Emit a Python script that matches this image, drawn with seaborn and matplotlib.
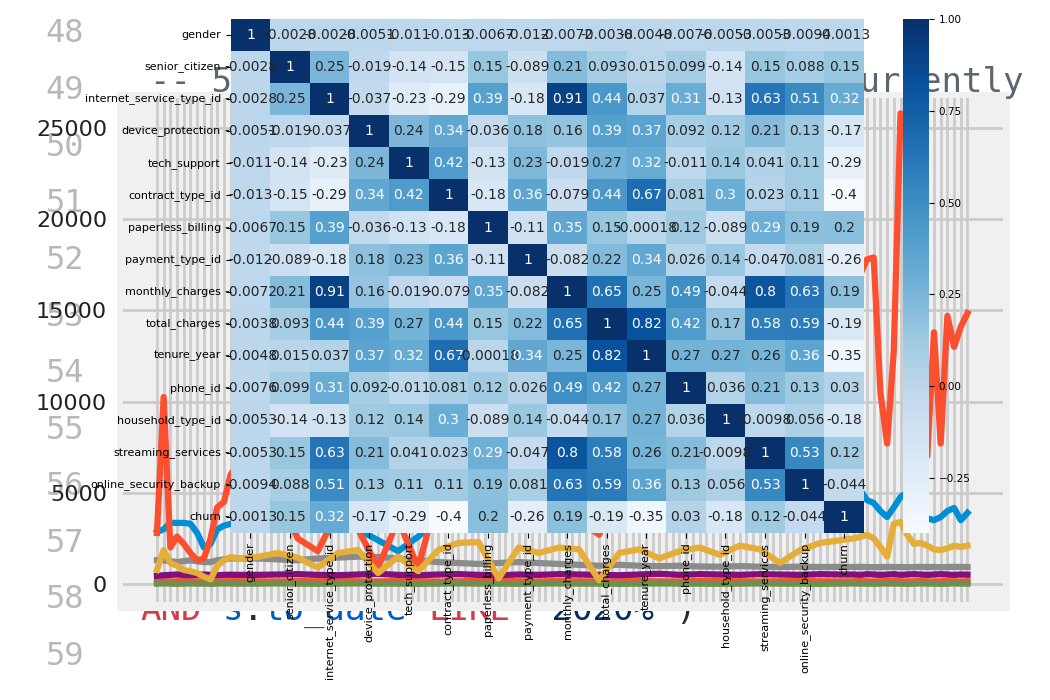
import matplotlib
matplotlib.use("Agg")
import matplotlib.pyplot as plt
from matplotlib.patches import Rectangle
from matplotlib.transforms import Bbox, TransformedBbox
import seaborn as sns
import pandas as pd

# ---------------- heatmap data ----------------
features = ["gender", "senior_citizen", "internet_service_type_id", "device_protection",
            "tech_support", "contract_type_id", "paperless_billing", "payment_type_id",
            "monthly_charges", "total_charges", "tenure_year", "phone_id",
            "household_type_id", "streaming_services", "online_security_backup", "churn"]

corr_values = [
    [1, -0.0028, -0.0028, -0.0051, -0.011, -0.013, -0.0067, -0.012, -0.0072, -0.0038, -0.0048, -0.0076, -0.0053, -0.0053, -0.0094, -0.0013],
    [-0.0028, 1, 0.25, -0.019, -0.14, -0.15, 0.15, -0.089, 0.21, 0.093, 0.015, 0.099, -0.14, 0.15, 0.088, 0.15],
    [-0.0028, 0.25, 1, -0.037, -0.23, -0.29, 0.39, -0.18, 0.91, 0.44, 0.037, 0.31, -0.13, 0.63, 0.51, 0.32],
    [-0.0051, -0.019, -0.037, 1, 0.24, 0.34, -0.036, 0.18, 0.16, 0.39, 0.37, 0.092, 0.12, 0.21, 0.13, -0.17],
    [-0.011, -0.14, -0.23, 0.24, 1, 0.42, -0.13, 0.23, -0.019, 0.27, 0.32, -0.011, 0.14, 0.041, 0.11, -0.29],
    [-0.013, -0.15, -0.29, 0.34, 0.42, 1, -0.18, 0.36, -0.079, 0.44, 0.67, 0.081, 0.3, 0.023, 0.11, -0.4],
    [-0.0067, 0.15, 0.39, -0.036, -0.13, -0.18, 1, -0.11, 0.35, 0.15, -0.00018, 0.12, -0.089, 0.29, 0.19, 0.2],
    [-0.012, -0.089, -0.18, 0.18, 0.23, 0.36, -0.11, 1, -0.082, 0.22, 0.34, 0.026, 0.14, -0.047, 0.081, -0.26],
    [-0.0072, 0.21, 0.91, 0.16, -0.019, -0.079, 0.35, -0.082, 1, 0.65, 0.25, 0.49, -0.044, 0.8, 0.63, 0.19],
    [-0.0038, 0.093, 0.44, 0.39, 0.27, 0.44, 0.15, 0.22, 0.65, 1, 0.82, 0.42, 0.17, 0.58, 0.59, -0.19],
    [-0.0048, 0.015, 0.037, 0.37, 0.32, 0.67, -0.00018, 0.34, 0.25, 0.82, 1, 0.27, 0.27, 0.26, 0.36, -0.35],
    [-0.0076, 0.099, 0.31, 0.092, -0.011, 0.081, 0.12, 0.026, 0.49, 0.42, 0.27, 1, 0.036, 0.21, 0.13, 0.03],
    [-0.0053, -0.14, -0.13, 0.12, 0.14, 0.3, -0.089, 0.14, -0.044, 0.17, 0.27, 0.036, 1, -0.0098, 0.056, -0.18],
    [-0.0053, 0.15, 0.63, 0.21, 0.041, 0.023, 0.29, -0.047, 0.8, 0.58, 0.26, 0.21, -0.0098, 1, 0.53, 0.12],
    [-0.0094, 0.088, 0.51, 0.13, 0.11, 0.11, 0.19, 0.081, 0.63, 0.59, 0.36, 0.13, 0.056, 0.53, 1, -0.044],
    [-0.0013, 0.15, 0.32, -0.17, -0.29, -0.4, 0.2, -0.26, 0.19, -0.19, -0.35, 0.03, -0.18, 0.12, -0.044, 1],
]
cbar_ticks = [-0.25, 0.0, 0.25, 0.50, 0.75, 1.00]

# ---------------- background line chart data (estimated) ----------------
days = list(range(0, 13)) + list(range(15, 103, 3)) + list(range(104, 122))
bg_yticks = [0, 5000, 10000, 15000, 20000, 25000]

series_orange = [2800, 10250, 2000, 2600, 2200, 1700, 1300, 1400, 2500, 4200, 4500, 6000, 6500,
                 6000, 5000, 2500, 1800, 4000, 3000, 900, 3500, 900, 5000, 8000, 10000, 9000, 7000, 6000,
                 5000, 3500, 2700, 5000, 8000, 10000, 12000, 10000, 9000, 11000, 13000, 14000, 15000, 16000, 15500,
                 16500, 17000, 17800, 17900, 10500, 7700, 12800, 25800, 25500, 20000, 12000, 7000, 13800, 7700,
                 14700, 13000, 14100, 14850]
series_blue = [2850, 3000, 3350, 3350, 3350, 3300, 2800, 2000, 2200, 3000, 3200, 3300, 3400,
               3500, 3800, 4000, 3600, 3400, 3000, 2400, 1800, 2600, 3500, 4000, 4200, 4500, 4000, 3800,
               4200, 4500, 4000, 4300, 4600, 4200, 4500, 4800, 4400, 4600, 4900, 4500, 4700, 5000, 4800,
               4800, 5150, 4600, 4440, 4000, 3670, 4200, 4770, 5040, 4500, 4000, 3600, 3500, 3670, 4000,
               4170, 3500, 3900]
series_yellow = [770, 1860, 1150, 1000, 770, 700, 600, 400, 250, 1000, 1300, 1480, 1400,
                 1480, 1700, 1450, 900, 1700, 1860, 600, 1500, 700, 1860, 2250, 2300, 300, 2000, 1700,
                 2000, 1900, 200, 1700, 1900, 1400, 1800, 2000, 1600, 2100, 1900, 1150, 1860, 2250, 2400,
                 2500, 2580, 2700, 2500, 2030, 1500, 3300, 3400, 2700, 2200, 2250, 2100, 1900, 1860, 1950,
                 2100, 2030, 2100]
series_gray = [1300, 1300, 1250, 1200, 1250, 1300, 1250, 1200, 1200, 1300, 1350, 1400, 1400,
               1400, 1350, 1300, 1400, 1450, 1500, 1480, 1400, 1300, 1200, 1150, 1100, 1150, 1200, 1150,
               1100, 1050, 1000, 1050, 1000, 980, 1000, 960, 950, 980, 950, 930, 950, 930, 940,
               930, 940, 930, 920, 930, 940, 930, 930, 920, 930, 940, 930, 930, 920, 930,
               940, 930, 930]
series_purple = [450, 480, 500, 520, 500, 480, 500, 520, 500, 480, 500, 510, 500,
                 500, 520, 540, 500, 480, 520, 560, 500, 480, 520, 540, 500, 480, 520, 500,
                 540, 520, 500, 480, 520, 560, 500, 540, 520, 500, 540, 520, 500, 540, 520,
                 520, 500, 540, 520, 500, 520, 540, 500, 520, 540, 520, 500, 520, 540, 520,
                 500, 520, 510]
series_red_base = [150, 160, 140, 150, 170, 150, 140, 160, 150, 140, 150, 160, 150,
                   150, 140, 160, 150, 170, 150, 140, 160, 150, 140, 150, 160, 170, 150, 140,
                   160, 150, 140, 150, 160, 150, 140, 160, 170, 150, 140, 150, 160, 150, 140,
                   150, 160, 150, 140, 150, 160, 170, 150, 140, 150, 160, 150, 140, 150, 160,
                   150, 140, 150]
series_green = [20, 30, 20, 10, 20, 30, 20, 20, 10, 20, 30, 20, 20,
                20, 30, 20, 10, 20, 30, 20, 20, 10, 20, 30, 20, 20, 10, 20,
                30, 20, 20, 10, 20, 30, 20, 20, 10, 20, 30, 20, 20, 10, 20,
                30, 20, 20, 10, 20, 30, 20, 20, 10, 20, 30, 20, 20, 10, 20,
                30, 20, 20]

line_numbers = ["48", "49", "50", "51", "52", "53", "54", "55", "56", "57", "58", "59"]

W, H = 1050, 700
def fx(px):
    return px / W
def fy(py):
    return 1 - py / H

fig = plt.figure(figsize=(10.5, 7), dpi=100, facecolor="white")

# ---- editor background text ----
mono = "DejaVu Sans Mono"
for i, lab in enumerate(line_numbers):
    fig.text(fx(84), fy(34 + i * 56.6), lab, ha="right", va="center", family=mono,
             fontsize=23, color="#b8b8b8", zorder=0.2)

cw = 20.6
fig.text(fx(150), fy(92), "-- 5", ha="left", va="baseline", family=mono, fontsize=24.6,
         color="#5b6670", zorder=0.8)
fig.text(fx(860 - cw), fy(92), "currently", ha="left", va="baseline", family=mono, fontsize=24.6,
         color="#5b6670", zorder=0.8)

# bottom code line: only the part below the panel (y > 611 px) is visible
clip_bottom = TransformedBbox(Bbox([[0, 0], [1, fy(611)]]), fig.transFigure)
code_pieces = [("AND", "#d73a49"), (" ", "#24292e"), ("s", "#005cc5"), (".", "#24292e"),
               ("to_date", "#005cc5"), (" ", "#24292e"), ("LIKE", "#d73a49"), (" ", "#24292e"),
               ("'2020%'", "#032f62"), (")", "#24292e")]
k = 0
for txt, col in code_pieces:
    t = fig.text(fx(140 + k * cw), fy(620), txt, ha="left", va="baseline", family=mono,
                 fontsize=24.6, color=col, zorder=0.3)
    t.set_clip_box(clip_bottom)
    t.set_clip_on(True)
    k += len(txt)

# ---- background panel (fivethirtyeight-like chart) ----
panel = Rectangle((fx(117), fy(611)), (1010 - 117) / W, (611 - 92) / H,
                  transform=fig.transFigure, facecolor="#f0f0f0",
                  edgecolor="none", zorder=0.5)
fig.add_artist(panel)

ax_bg = fig.add_axes([fx(123), fy(602), (1003 - 123) / W, (602 - 98) / H], zorder=1)
ax_bg.set_facecolor("none")
ax_bg.set_axisbelow(True)
series_list = [(series_red_base, "#fc4f30"), (series_green, "#6d904f"),
               (series_purple, "#810f7c"), (series_gray, "#8b8b8b"),
               (series_blue, "#008fd5"), (series_orange, "#fc4f30"),
               (series_yellow, "#e5ae38")]
for vals, col in series_list:
    sns.lineplot(x=days, y=vals, ax=ax_bg, color=col, lw=4.5, solid_joinstyle="round")
ax_bg.set_xlim(-5.07, 126.3)
ax_bg.set_ylim(-987, 26645)
ax_bg.set_xticks(range(0, 122))
ax_bg.set_xticklabels([])
ax_bg.set_yticks(bg_yticks)
ax_bg.set_yticklabels([str(v) for v in bg_yticks])
ax_bg.tick_params(axis="both", length=0)
ax_bg.tick_params(axis="y", pad=11.5, labelsize=16, labelcolor="#222222")
ax_bg.grid(True, color="#cbcbcb", lw=2)
ax_bg.set_xlabel("")
ax_bg.set_ylabel("")
for s in ax_bg.spines.values():
    s.set_visible(False)

# ---- correlation heatmap ----
df = pd.DataFrame(corr_values, index=features, columns=features)
ax_hm = fig.add_axes([fx(230.7), fy(533), (864 - 230.7) / W, (533 - 18.5) / H], zorder=2)
ax_cb = fig.add_axes([fx(903), fy(533), (929 - 903) / W, (533 - 19) / H], zorder=2)
sns.heatmap(df, annot=True, cmap="Blues", ax=ax_hm, cbar_ax=ax_cb,
            annot_kws={"size": 10})
ax_hm.tick_params(axis="both", labelsize=8)
ax_hm.set_xticklabels(features, rotation=90)
ax_hm.set_yticklabels(features, rotation=0)
ax_cb.set_yticks(cbar_ticks)
ax_cb.set_yticklabels([f"{t:.2f}".replace("-", "\u2212") for t in cbar_ticks])
ax_cb.tick_params(labelsize=7.5)

fig.savefig("out.png", dpi=100, facecolor="white")
